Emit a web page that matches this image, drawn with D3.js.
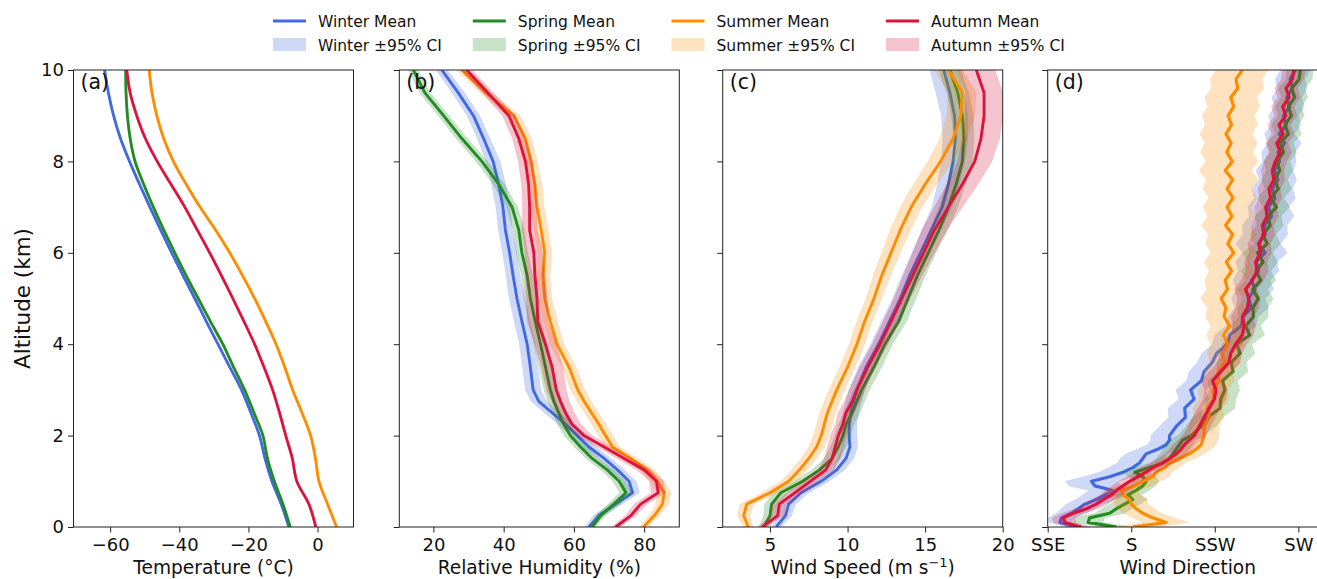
<!DOCTYPE html>
<html>
<head>
<meta charset="utf-8">
<script src="https://cdn.jsdelivr.net/npm/d3@7"></script>
<style>
  body { margin: 0; background: #fff; }
  svg { display: block; font-family: "DejaVu Sans", sans-serif; }
</style>
</head>
<body>
<svg id="fig" width="1317" height="579"></svg>
<script>
// ---- seasons ----
const seasons = ["Winter", "Spring", "Summer", "Autumn"];
const seasonColors = ["#4169e1", "#228b22", "#ff8c00", "#dc143c"];

// ---- (a) temperature profiles, °C ----
const altTemp = [0,0.5,1,1.5,2,2.5,3,3.5,4,4.5,5,5.5,6,6.5,7,7.5,8,8.5,9,9.5,10];
const tempWinter = [-8.3,-10.5,-13.2,-15.2,-16.8,-19.3,-22.0,-25.4,-28.8,-32.2,-35.5,-38.9,-42.2,-45.4,-48.5,-51.5,-54.4,-57.0,-59.0,-60.5,-61.6];
const tempSpring = [-7.9,-10.0,-12.5,-14.5,-15.8,-18.4,-21.1,-24.3,-27.4,-31.0,-34.5,-38.0,-41.3,-44.5,-47.5,-50.3,-52.8,-54.2,-55.0,-55.4,-55.5];
const tempSummer = [5.5,2.9,0.4,-0.6,-2.0,-4.5,-7.2,-9.5,-12.0,-15.0,-18.2,-21.7,-25.4,-29.5,-34.0,-38.0,-41.7,-44.5,-46.5,-47.9,-48.7];
const tempAutumn = [-0.5,-2.5,-6.0,-7.3,-9.2,-11.0,-13.0,-15.5,-18.2,-21.3,-24.5,-27.8,-31.2,-34.8,-38.4,-42.4,-46.4,-49.8,-52.3,-54.2,-55.2];
const tempWinterCI = [0.3,0.3,0.3,0.3,0.3,0.3,0.3,0.3,0.3,0.3,0.3,0.3,0.3,0.3,0.3,0.3,0.3,0.3,0.3,0.3,0.3];
const tempSpringCI = [0.3,0.3,0.3,0.3,0.3,0.3,0.3,0.3,0.3,0.3,0.3,0.3,0.3,0.3,0.3,0.3,0.3,0.3,0.3,0.3,0.3];
const tempSummerCI = [0.3,0.3,0.3,0.3,0.3,0.3,0.3,0.3,0.3,0.3,0.3,0.3,0.3,0.3,0.3,0.3,0.3,0.3,0.3,0.3,0.3];
const tempAutumnCI = [0.3,0.3,0.3,0.3,0.3,0.3,0.3,0.3,0.3,0.3,0.3,0.3,0.3,0.3,0.3,0.3,0.3,0.3,0.3,0.3,0.3];
const tempTicks = [-60, -40, -20, 0];

// ---- (b) relative humidity, % and (c) wind speed, m/s ----
const altProf = [0,0.25,0.5,0.75,1,1.25,1.5,1.75,2,2.25,2.5,2.75,3,3.5,4,4.5,5,5.5,6,6.5,7,7.5,8,8.5,9,9.5,10];
const rhWinter = [64.3,67.1,71.9,76.7,75.7,72.4,68.6,64.3,61.0,57.6,53.8,50.0,48.4,47.6,46.7,45.2,43.8,42.7,41.7,40.5,39.8,38.6,37.0,34.3,31.4,27.1,22.4];
const rhSpring = [65.2,67.6,71.4,74.8,72.9,69.5,65.2,61.9,59.0,57.1,55.7,54.3,53.3,51.9,50.5,49.0,47.6,46.7,45.2,44.3,42.4,38.6,33.8,28.1,22.9,17.6,14.3];
const rhSummer = [79.8,82.9,85.2,85.7,83.8,81.0,76.2,71.0,69.0,67.1,65.0,62.9,61.1,58.6,55.2,53.3,51.7,51.2,51.7,50.7,49.5,48.9,47.8,46.2,42.9,35.0,28.1];
const rhAutumn = [71.9,76.2,79.0,84.0,83.5,80.0,74.3,68.6,62.9,59.5,57.6,56.2,55.0,53.8,51.9,49.7,49.5,48.9,48.6,47.4,47.4,47.1,46.2,44.3,41.5,35.5,29.5];
const rhWinterCI = [1.2,1.5,1.8,2.0,2.0,2.0,2.0,2.0,2.0,2.0,2.2,2.2,2.2,2.2,2.2,2.2,2.2,2.0,2.0,2.0,2.0,2.0,2.0,1.8,1.8,1.8,1.6];
const rhSpringCI = [1.0,1.3,1.6,1.8,1.8,1.8,1.8,1.8,1.8,1.8,1.8,1.8,1.8,1.8,1.8,1.8,1.8,1.6,1.6,1.6,1.6,1.6,1.6,1.6,1.5,1.5,1.4];
const rhSummerCI = [1.2,1.5,1.8,2.0,2.0,2.0,2.0,2.0,2.0,2.0,2.0,2.0,2.0,2.0,2.0,2.0,2.0,2.0,2.0,2.0,2.0,2.0,1.8,1.8,1.8,1.6,1.5];
const rhAutumnCI = [1.2,1.5,1.8,2.0,2.0,2.0,2.0,2.0,2.2,2.5,2.5,2.5,2.8,3.0,3.0,3.0,3.0,2.8,2.5,2.2,2.0,2.0,2.0,1.8,1.8,1.6,1.5];
const rhTicks = [20, 40, 60, 80];

const wsWinter = [5.4,6.0,6.2,7.0,8.3,9.3,9.9,10.15,10.1,10.1,10.2,10.4,10.6,11.2,12.0,12.7,13.4,14.0,14.7,15.4,16.1,16.5,16.8,16.95,16.9,16.6,16.2];
const wsSpring = [4.6,5.0,5.1,5.7,7.1,8.2,9.0,9.4,9.7,9.9,10.3,10.6,10.9,11.7,12.4,13.3,13.9,14.5,15.2,15.9,16.5,17.0,17.4,17.5,17.4,17.1,16.6];
const wsSummer = [3.6,3.3,3.5,5.0,6.2,6.9,7.5,8.0,8.3,8.5,8.7,9.0,9.3,10.0,10.6,11.1,11.7,12.2,12.8,13.4,14.1,15.0,16.0,16.8,17.3,17.4,16.5];
const wsAutumn = [4.5,5.5,5.6,6.6,7.6,8.6,9.0,9.2,9.4,9.7,9.9,10.3,10.6,11.3,12.1,12.8,13.5,14.2,14.9,15.6,16.5,17.4,18.2,18.6,18.8,18.8,18.3];
const wsWinterCI = [0.3,0.4,0.45,0.5,0.5,0.5,0.5,0.5,0.5,0.5,0.5,0.5,0.5,0.5,0.5,0.5,0.5,0.5,0.55,0.6,0.65,0.7,0.75,0.8,0.85,0.9,0.9];
const wsSpringCI = [0.3,0.4,0.45,0.5,0.5,0.5,0.5,0.5,0.5,0.5,0.5,0.5,0.5,0.5,0.5,0.5,0.5,0.5,0.5,0.55,0.6,0.6,0.65,0.65,0.7,0.7,0.7];
const wsSummerCI = [0.3,0.4,0.45,0.5,0.5,0.5,0.5,0.5,0.5,0.5,0.5,0.5,0.5,0.5,0.5,0.5,0.5,0.55,0.6,0.65,0.7,0.75,0.8,0.85,0.9,0.9,0.9];
const wsAutumnCI = [0.3,0.4,0.45,0.5,0.5,0.5,0.5,0.5,0.5,0.5,0.5,0.5,0.5,0.5,0.5,0.5,0.5,0.6,0.7,0.8,0.9,1.0,1.1,1.2,1.2,1.2,1.2];
const wsTicks = [5, 10, 15, 20];

// ---- (d) wind direction, degrees ----
const altDir = [0,0.1,0.2,0.3,0.4,0.5,0.6,0.7,0.8,0.9,1.0,1.1,1.2,1.3,1.4,1.5,1.6,1.7,1.8,1.9,2.0,
  2.2,2.4,2.6,2.8,3.0,3.2,3.4,3.6,3.8,4.0,4.2,4.4,4.6,4.8,5.0,5.2,5.4,5.6,5.8,6.0,
  6.2,6.4,6.6,6.8,7.0,7.2,7.4,7.6,7.8,8.0,8.2,8.4,8.6,8.8,9.0,9.2,9.4,9.6,9.8,10.0];
const dirWinter = [165.3,160.8,161.2,163.9,165.7,167.5,170.6,172.9,175.1,170.2,169.3,174.2,177.8,180.4,182.2,183.1,184.0,187.1,189.4,190.3,190.3,
  192.1,194.6,194.4,196.9,196.0,198.9,199.6,201.8,203.0,205.9,206.5,209.6,210.1,212.4,211.5,213.3,212.4,214.3,213.6,216.0,
  214.2,216.1,215.9,217.8,216.9,218.7,217.9,219.5,218.6,219.9,219.6,221.3,219.9,221.7,221.0,222.6,221.9,223.4,222.8,224.2];
const dirSpring = [176.0,168.4,168.8,174.2,176.0,178.2,180.4,179.1,181.3,183.1,184.0,183.1,180.9,184.9,188.5,190.3,191.2,192.1,193.0,193.8,196.1,
  198.8,200.6,203.9,204.1,205.2,204.6,207.4,206.9,209.3,208.4,211.9,210.8,212.9,212.8,214.2,212.7,214.9,213.6,215.5,214.0,
  216.6,215.4,217.4,216.8,219.1,217.6,219.6,218.6,220.0,219.2,221.0,220.1,222.3,221.4,223.1,222.3,224.0,223.2,225.2,225.5];
const dirSummer = [180.4,189.4,185.8,183.1,181.3,180.0,179.6,177.8,177.3,180.9,183.1,185.8,186.7,189.0,190.3,193.0,195.6,197.4,198.8,199.2,199.6,
  199.6,201.0,200.5,202.3,202.0,203.6,203.4,205.2,204.5,206.0,204.8,206.5,205.0,205.5,204.2,205.9,205.3,207.0,205.6,207.6,
  206.0,207.3,205.4,207.1,205.8,207.4,205.8,207.3,205.3,207.2,205.7,206.9,205.5,207.0,206.1,207.6,206.8,208.7,208.2,209.9];
const dirAutumn = [166.6,162.1,161.7,164.4,168.0,170.6,172.4,174.6,176.0,177.8,179.6,181.8,184.0,185.8,188.5,190.3,192.1,193.4,194.3,195.6,197.0,
  198.3,199.6,201.0,202.4,202.8,201.9,204.1,206.3,206.8,208.1,209.9,210.4,209.9,211.3,211.7,210.8,212.6,213.9,213.5,214.8,
  214.4,215.7,215.3,216.6,216.2,217.5,217.1,218.4,218.0,218.8,220.1,219.2,220.9,219.8,221.6,220.8,222.5,221.7,223.4,223.8];
const dirWinterCI = [2.5,3.0,3.5,4.0,4.5,5.0,5.5,6.0,6.5,7.0,7.0,7.0,6.5,6.5,6.0,6.0,5.5,5.5,5.0,5.0,5.0,
  4.5,4.5,4.5,4.0,4.0,4.0,4.0,4.0,4.0,4.0,4.0,4.0,4.0,4.5,4.5,5.0,5.0,5.5,5.5,6.0,
  6.0,6.0,6.0,6.0,5.5,5.5,5.5,5.0,5.0,4.5,4.5,4.5,4.0,4.0,4.0,4.0,4.0,4.0,4.0,4.0];
const dirSpringCI = [4.0,4.0,4.0,4.0,4.0,4.0,4.0,3.5,3.5,3.5,3.5,3.5,3.5,3.5,3.5,3.5,3.5,3.5,3.5,3.5,3.5,
  4.0,4.0,4.0,4.0,4.0,4.0,4.0,4.0,4.0,4.0,4.0,4.0,4.0,4.0,4.0,4.0,4.0,4.0,4.0,4.0,
  3.5,3.5,3.5,3.5,3.5,3.5,3.5,3.5,3.5,3.5,3.5,3.5,3.5,3.5,3.5,3.5,3.5,3.5,3.5,3.5];
const dirSummerCI = [6.0,6.0,5.5,5.0,5.0,4.5,4.5,4.5,4.5,4.5,4.5,4.5,4.0,4.0,4.0,4.0,4.0,4.0,4.0,4.0,4.0,
  4.0,4.0,4.0,4.0,4.0,4.0,4.0,4.0,4.0,4.5,4.5,5.0,5.0,5.0,5.5,5.5,5.5,6.0,6.0,6.0,
  6.0,6.5,6.5,6.5,6.5,6.5,6.5,7.0,7.0,7.0,7.0,7.0,7.0,7.0,7.0,7.0,7.0,7.0,7.0,7.0];
const dirAutumnCI = [2.5,3.0,3.0,3.0,3.0,3.0,3.0,3.0,3.0,3.0,3.0,3.0,3.0,3.0,3.0,3.0,3.0,3.0,3.0,3.0,3.0,
  3.0,3.0,3.0,3.0,3.0,3.0,3.0,3.0,3.0,3.0,3.0,3.0,3.0,3.0,3.0,3.0,3.0,3.0,3.0,3.0,
  3.0,3.0,3.0,3.0,3.0,3.0,3.0,3.0,3.0,3.0,3.0,3.0,3.0,3.0,3.0,3.0,3.0,3.0,3.0,3.0];
const dirTicks = [157.5, 180, 202.5, 225];
const dirTickLabels = ["SSE", "S", "SSW", "SW"];

const altTicks = [0, 2, 4, 6, 8, 10];

// ---- figure layout ----
const svg = d3.select("#fig");
const plotTop = 70, plotBottom = 527, plotWidth = 280;
const y = d3.scaleLinear().domain([0, 10]).range([plotBottom, plotTop]);
const minus = s => String(s).replace("-", "\u2212");

const panels = [
  { left: 73.5, domain: [-70.6, 10.4], alt: altTemp, tag: "(a)",
    means: [tempWinter, tempSpring, tempSummer, tempAutumn],
    cis: [tempWinterCI, tempSpringCI, tempSummerCI, tempAutumnCI],
    ticks: tempTicks, fmt: minus, curve: d3.curveCatmullRom.alpha(0.5), lw: 2.8,
    label: "Temperature (\u00b0C)" },
  { left: 399.3, domain: [10.3, 90], alt: altProf, tag: "(b)",
    means: [rhWinter, rhSpring, rhSummer, rhAutumn],
    cis: [rhWinterCI, rhSpringCI, rhSummerCI, rhAutumnCI],
    ticks: rhTicks, fmt: String, curve: d3.curveLinear, lw: 2.9,
    label: "Relative Humidity (%)" },
  { left: 722.7, domain: [1.95, 20], alt: altProf, tag: "(c)",
    means: [wsWinter, wsSpring, wsSummer, wsAutumn],
    cis: [wsWinterCI, wsSpringCI, wsSummerCI, wsAutumnCI],
    ticks: wsTicks, fmt: String, curve: d3.curveLinear, lw: 2.9,
    label: null },
  { left: 1047.7, domain: [157.5, 232.9], alt: altDir, tag: "(d)",
    means: [dirWinter, dirSpring, dirSummer, dirAutumn],
    cis: [dirWinterCI, dirSpringCI, dirSummerCI, dirAutumnCI],
    ticks: dirTicks, fmt: (d) => dirTickLabels[dirTicks.indexOf(d)], curve: d3.curveLinear, lw: 3.2,
    label: "Wind Direction" }
];

const defs = svg.append("defs");

panels.forEach((p, pi) => {
  const x = d3.scaleLinear().domain(p.domain).range([p.left, p.left + plotWidth]);
  const clipId = "clip" + pi;
  defs.append("clipPath").attr("id", clipId)
    .append("rect").attr("x", p.left).attr("y", plotTop)
    .attr("width", plotWidth).attr("height", plotBottom - plotTop);

  const g = svg.append("g");
  const data = g.append("g").attr("clip-path", `url(#${clipId})`);

  seasons.forEach((s, si) => {
    const rows = p.alt.map((a, k) => ({ a, v: p.means[si][k], h: p.cis[si][k] }));
    const band = d3.area()
      .y(d => y(d.a))
      .x0(d => x(d.v - d.h))
      .x1(d => x(d.v + d.h))
      .curve(p.curve);
    data.append("path").attr("d", band(rows))
      .attr("fill", seasonColors[si]).attr("fill-opacity", 0.25)
      .attr("stroke", seasonColors[si]).attr("stroke-opacity", 0.12).attr("stroke-width", 0.8);
    const line = d3.line().x(d => x(d.v)).y(d => y(d.a)).curve(p.curve);
    data.append("path").attr("d", line(rows))
      .attr("fill", "none").attr("stroke", seasonColors[si])
      .attr("stroke-width", p.lw).attr("stroke-linejoin", "round").attr("stroke-linecap", "butt");
  });

  // axes
  const xAxis = d3.axisBottom(x).tickValues(p.ticks).tickFormat(p.fmt).tickSize(5.5).tickPadding(3.5);
  const gx = g.append("g").attr("transform", `translate(0,${plotBottom})`).call(xAxis);
  const yAxis = d3.axisLeft(y).tickValues(altTicks).tickSize(5.5).tickPadding(4)
    .tickFormat(pi === 0 ? d3.format("d") : () => "");
  const gy = g.append("g").attr("transform", `translate(${p.left},0)`).call(yAxis);
  [gx, gy].forEach(ax => {
    ax.select(".domain").remove();
    ax.selectAll(".tick line").attr("stroke", "#222").attr("stroke-width", 1);
    ax.selectAll(".tick text").attr("fill", "#111").style("font-size", "18px")
      .style("font-family", "'DejaVu Sans', sans-serif");
  });
  gx.selectAll(".tick text").attr("dy", "0.82em");

  // frame
  g.append("rect").attr("x", p.left).attr("y", plotTop)
    .attr("width", plotWidth).attr("height", plotBottom - plotTop)
    .attr("fill", "none").attr("stroke", "#222").attr("stroke-width", 1);

  // panel tag
  g.append("text").attr("x", p.left + 7).attr("y", plotTop + 19)
    .style("font-size", "20.5px").attr("fill", "#111").text(p.tag);

  // axis title
  const cx = p.left + plotWidth / 2;
  if (p.label) {
    g.append("text").attr("x", cx).attr("y", 574).attr("text-anchor", "middle")
      .style("font-size", "18.6px").attr("fill", "#111").text(p.label);
  } else {
    const t = g.append("text").attr("x", cx).attr("y", 574).attr("text-anchor", "middle")
      .style("font-size", "18.6px").attr("fill", "#111");
    t.append("tspan").text("Wind Speed (m s");
    t.append("tspan").attr("dy", -7).style("font-size", "13px").text("\u22121");
    t.append("tspan").attr("dy", 7).text(")");
  }
});

// y title
svg.append("text")
  .attr("transform", `translate(30,${(plotTop + plotBottom) / 2}) rotate(-90)`)
  .attr("text-anchor", "middle").style("font-size", "21.5px").attr("fill", "#111")
  .text("Altitude (km)");

// ---- legend ----
const leg = svg.append("g");
const legFont = 15.5, handleLen = 33, textPad = 12, colGap = 31;
let lx = 273;
seasons.forEach((s, si) => {
  const col = leg.append("g");
  col.append("line").attr("x1", lx).attr("x2", lx + handleLen).attr("y1", 21).attr("y2", 21)
    .attr("stroke", seasonColors[si]).attr("stroke-width", 2.8);
  col.append("rect").attr("x", lx).attr("y", 38).attr("width", handleLen).attr("height", 13)
    .attr("fill", seasonColors[si]).attr("fill-opacity", 0.25);
  const t1 = col.append("text").attr("x", lx + handleLen + textPad).attr("y", 21).attr("dy", "0.36em")
    .style("font-size", legFont + "px").attr("fill", "#111").text(s + " Mean");
  const t2 = col.append("text").attr("x", lx + handleLen + textPad).attr("y", 45).attr("dy", "0.36em")
    .style("font-size", legFont + "px").attr("fill", "#111").text(s + " \u00b195% CI");
  const w = Math.max(t1.node().getComputedTextLength(), t2.node().getComputedTextLength());
  lx += handleLen + textPad + w + colGap;
});
</script>
</body>
</html>
